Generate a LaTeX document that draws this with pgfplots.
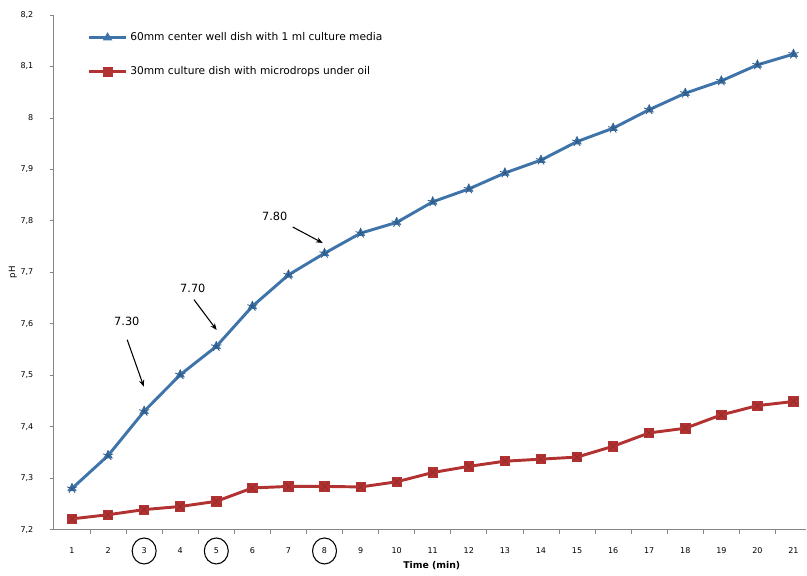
\documentclass[border=0pt]{standalone}
\usepackage{pgfplots}
\pgfplotsset{compat=1.18}
\usepackage{pgfplotstable}
\usepackage{fontspec}
\setmainfont{DejaVu Sans}
\usetikzlibrary{arrows.meta}

\definecolor{phblue}{RGB}{62,116,170}
\definecolor{phred}{RGB}{178,50,50}
\definecolor{axisgray}{RGB}{134,134,134}

% pH over time for the two dish setups
\pgfplotstableread{
t  blue   red
1  7.280  7.221
2  7.344  7.229
3  7.430  7.239
4  7.501  7.245
5  7.556  7.255
6  7.634  7.281
7  7.695  7.284
8  7.737  7.284
9  7.776  7.283
10 7.797  7.293
11 7.837  7.311
12 7.862  7.323
13 7.893  7.333
14 7.918  7.337
15 7.954  7.341
16 7.980  7.362
17 8.016  7.388
18 8.048  7.397
19 8.072  7.423
20 8.103  7.441
21 8.124  7.449
}\phdata

\begin{document}
\begin{tikzpicture}
\begin{axis}[
  at={(0,0)}, anchor=south west,
  width=564.75pt, height=386.25pt, scale only axis,
  xmin=0.5, xmax=21.36, ymin=7.2, ymax=8.2,
  clip=false,
  axis x line*=bottom, axis y line*=left,
  axis line style={axisgray, line width=0.8pt},
  tick align=outside,
  xtick={1,...,21},
  major x tick style={draw=none},
  minor xtick={1.5,2.5,...,20.5},
  minor tick length=3pt,
  minor tick style={axisgray, line width=0.6pt},
  ytick={7.2,7.3,7.4,7.5,7.6,7.7,7.8,7.9,8,8.1,8.2},
  major tick length=3pt,
  major y tick style={axisgray, line width=0.6pt},
  /pgf/number format/use comma,
  /pgf/number format/assume math mode=true,
  xticklabel style={font=\fontsize{6}{7}\selectfont, yshift=-7pt},
  yticklabel style={font=\fontsize{6}{7}\selectfont, xshift=-9pt},
  xlabel={Time (min)},
  xlabel style={font=\bfseries\fontsize{7}{8}\selectfont, at={(axis description cs:0.502,0)}, anchor=center, yshift=-27pt},
  ylabel={pH},
  ylabel style={font=\fontsize{6.5}{8}\selectfont, at={(axis description cs:-0.0545,0.5)}, anchor=center},
  legend style={at={(0,1)}, anchor=north west, xshift=22pt, yshift=-9pt,
    draw=none, fill=none, font=\fontsize{8}{9.6}\selectfont, row sep=14pt},
  legend cell align=left,
  legend image code/.code={\draw[mark repeat=2,mark phase=2,#1] plot coordinates {(0cm,0cm) (0.49cm,0cm) (0.98cm,0cm)};},
]
\addplot[phblue, line width=2.2pt, mark=triangle*, mark size=3.5pt, mark options={solid, line width=0.6pt}]
  table[x=t, y=blue]{\phdata};
\addlegendentry{60mm center well dish with 1 ml culture media}
\addplot[phred, line width=2.2pt, mark=square*, mark size=3.5pt, mark options={solid, line width=0.6pt}]
  table[x=t, y=red]{\phdata};
\addlegendentry{30mm culture dish with microdrops under oil}

% star overlay on the markers
\addplot[forget plot, only marks, mark=star, mark size=4pt, phblue!75!black, mark options={line width=0.6pt}]
  table[x=t, y=blue]{\phdata};
\addplot[forget plot, only marks, mark=x, mark size=4pt, phred!85!black, mark options={line width=0.6pt}]
  table[x=t, y=red]{\phdata};

% annotations
\node[font=\fontsize{8.5}{10}\selectfont] at (axis cs:2.52,7.604) {7.30};
\draw[-{Stealth[length=5pt,width=4pt]}, line width=0.8pt] (axis cs:2.53,7.569) -- (axis cs:2.99,7.478);
\node[font=\fontsize{8.5}{10}\selectfont] at (axis cs:4.35,7.668) {7.70};
\draw[-{Stealth[length=5pt,width=4pt]}, line width=0.8pt] (axis cs:4.38,7.647) -- (axis cs:5.01,7.588);
\node[font=\fontsize{8.5}{10}\selectfont] at (axis cs:6.62,7.808) {7.80};
\draw[-{Stealth[length=5pt,width=4pt]}, line width=0.8pt] (axis cs:7.12,7.788) -- (axis cs:7.95,7.757);

% circled time points
\draw[line width=0.8pt] ([yshift=-16pt]axis cs:3,7.2) ellipse (9pt and 9.75pt);
\draw[line width=0.8pt] ([yshift=-16pt]axis cs:5,7.2) ellipse (9pt and 9.75pt);
\draw[line width=0.8pt] ([yshift=-16pt]axis cs:8,7.2) ellipse (9pt and 9.75pt);
\end{axis}
\useasboundingbox (-40.5pt,-34.5pt) rectangle (564.75pt,397.5pt);
\end{tikzpicture}
\end{document}
